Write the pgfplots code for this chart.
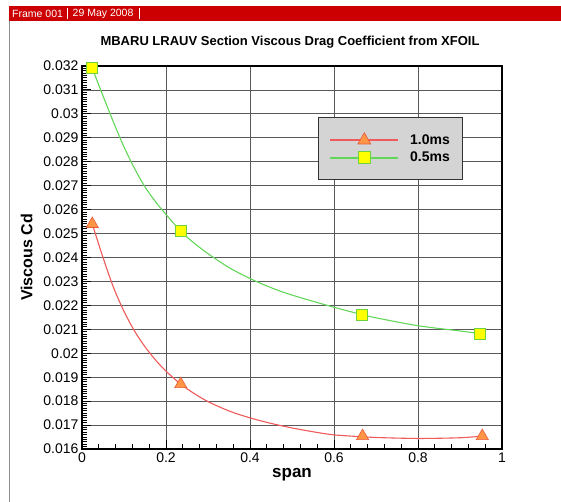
\documentclass[border=0pt]{standalone}
\usepackage{pgfplots}
\pgfplotsset{compat=1.18}
\usepackage{fontspec}
\setmainfont{Liberation Sans}
\definecolor{tecred}{RGB}{204,0,0}
\definecolor{redline}{RGB}{240,90,90}
\definecolor{trifill}{RGB}{255,150,70}
\definecolor{triedge}{RGB}{235,90,60}
\definecolor{greenline}{RGB}{100,215,90}
\definecolor{sqfill}{RGB}{255,255,0}
\definecolor{sqedge}{RGB}{110,210,60}
\definecolor{legfill}{RGB}{212,212,212}
\begin{document}
\begin{tikzpicture}[x=1pt,y=1pt]
\useasboundingbox (0,0) rectangle (561,502);
% frame
\fill[white] (0,0) rectangle (561,502);
\fill[tecred] (9,481) rectangle (561,495.5);
\draw[black!45, line width=1.5pt] (9.5,0) -- (9.5,481);
\node[anchor=west, text=white, font=\fontsize{10.5}{12}\selectfont, inner sep=0pt] at (12,488.2) {Frame 001};
\draw[white, line width=0.6pt] (67.5,482.5) -- (67.5,494);
\node[anchor=west, text=white, font=\fontsize{10.5}{12}\selectfont, inner sep=0pt] at (72.5,488.2) {29 May 2008};
\draw[white, line width=0.6pt] (139.5,482.5) -- (139.5,494);
\node[font=\fontsize{13}{15}\selectfont\bfseries] at (290,459.5) {MBARU LRAUV Section Viscous Drag Coefficient from XFOIL};
\begin{axis}[
  at={(82pt,53pt)}, anchor=south west,
  scale only axis, width=420pt, height=383pt,
  xmin=0, xmax=1, ymin=0.016, ymax=0.032,
  xtick={0,0.2,0.4,0.6,0.8,1},
  ytick={0.016,0.017,...,0.0325},
  minor x tick num=4, minor y tick num=9,
  scaled y ticks=false, scaled x ticks=false,
  y tick label style={/pgf/number format/fixed, /pgf/number format/precision=3},
  x tick label style={/pgf/number format/fixed},
  /pgf/number format/assume math mode=true,
  tick label style={font=\fontsize{14}{16}\selectfont},
  xtick pos=bottom, ytick pos=left,
  tick align=inside,
  major tick length=9pt, minor tick length=5pt,
  every tick/.style={black, line width=1pt},
  axis line style={line width=1.6pt},
  grid=major,
  major grid style={black!65, line width=0.8pt},
  xlabel={span}, ylabel={Viscous Cd},
  xlabel style={font=\fontsize{17}{19}\selectfont\bfseries, yshift=1pt},
  ylabel style={font=\fontsize{16}{18}\selectfont\bfseries, yshift=4pt},
  legend style={at={(0.5619,0.8668)}, anchor=north west, fill=legfill, draw=black!80, line width=0.8pt,
    font=\fontsize{14}{16}\selectfont\bfseries, inner xsep=11pt, inner ysep=15.3pt,
    nodes={inner sep=1pt}, row sep=4.3pt, /tikz/every odd column/.append style={column sep=10pt}},
  legend cell align=left,
]
\addplot[redline, line width=1.1pt, smooth, forget plot] coordinates {
(0.0245,0.0254) (0.05,0.0240) (0.075,0.02275) (0.1,0.02175) (0.125,0.02093)
(0.15,0.02027) (0.175,0.01972) (0.2,0.01925) (0.235,0.01871) (0.265,0.01834)
(0.3,0.01798) (0.35,0.01759) (0.4,0.0173) (0.45,0.01707) (0.5,0.01688)
(0.55,0.01672) (0.6,0.01659) (0.668,0.01651) (0.7,0.01648) (0.8,0.01644)
(0.9,0.01647) (0.953,0.01654)};
\addplot[greenline, line width=1.1pt, smooth, forget plot] coordinates {
(0.0245,0.0319) (0.05,0.03075) (0.075,0.02965) (0.1,0.02862) (0.125,0.02772)
(0.15,0.02695) (0.175,0.02633) (0.2,0.0258) (0.235,0.0251) (0.265,0.02463)
(0.3,0.02416) (0.35,0.02358) (0.4,0.02312) (0.45,0.02274) (0.5,0.02243)
(0.6,0.02192) (0.666,0.02162) (0.7,0.02148) (0.8,0.02115) (0.9,0.02093) (0.948,0.02082)};
\addplot[only marks, mark=triangle*, mark size=7pt, mark options={fill=trifill, draw=triedge, line width=0.6pt}, forget plot] coordinates {
(0.0245,0.0254) (0.235,0.01871) (0.668,0.01654) (0.953,0.01654)};
\addplot[only marks, mark=square*, mark size=5.5pt, mark options={fill=sqfill, draw=sqedge, line width=0.8pt}, forget plot] coordinates {
(0.0245,0.0319) (0.235,0.0251) (0.666,0.02162) (0.948,0.02082)};
\addlegendimage{legend image code/.code={
  \draw[draw=redline, line width=1.8pt] (0pt,0pt) -- (68pt,0pt);
  \path plot[mark=triangle*, mark size=7.5pt, mark options={fill=trifill, draw=triedge, line width=0.6pt}] coordinates {(34pt,0pt)};}}
\addlegendentry{1.0ms}
\addlegendimage{legend image code/.code={
  \draw[draw=greenline, line width=1.8pt] (0pt,0pt) -- (68pt,0pt);
  \path plot[mark=square*, mark size=6pt, mark options={fill=sqfill, draw=sqedge, line width=0.8pt}] coordinates {(34pt,0pt)};}}
\addlegendentry{0.5ms}
\end{axis}
\end{tikzpicture}
\end{document}
